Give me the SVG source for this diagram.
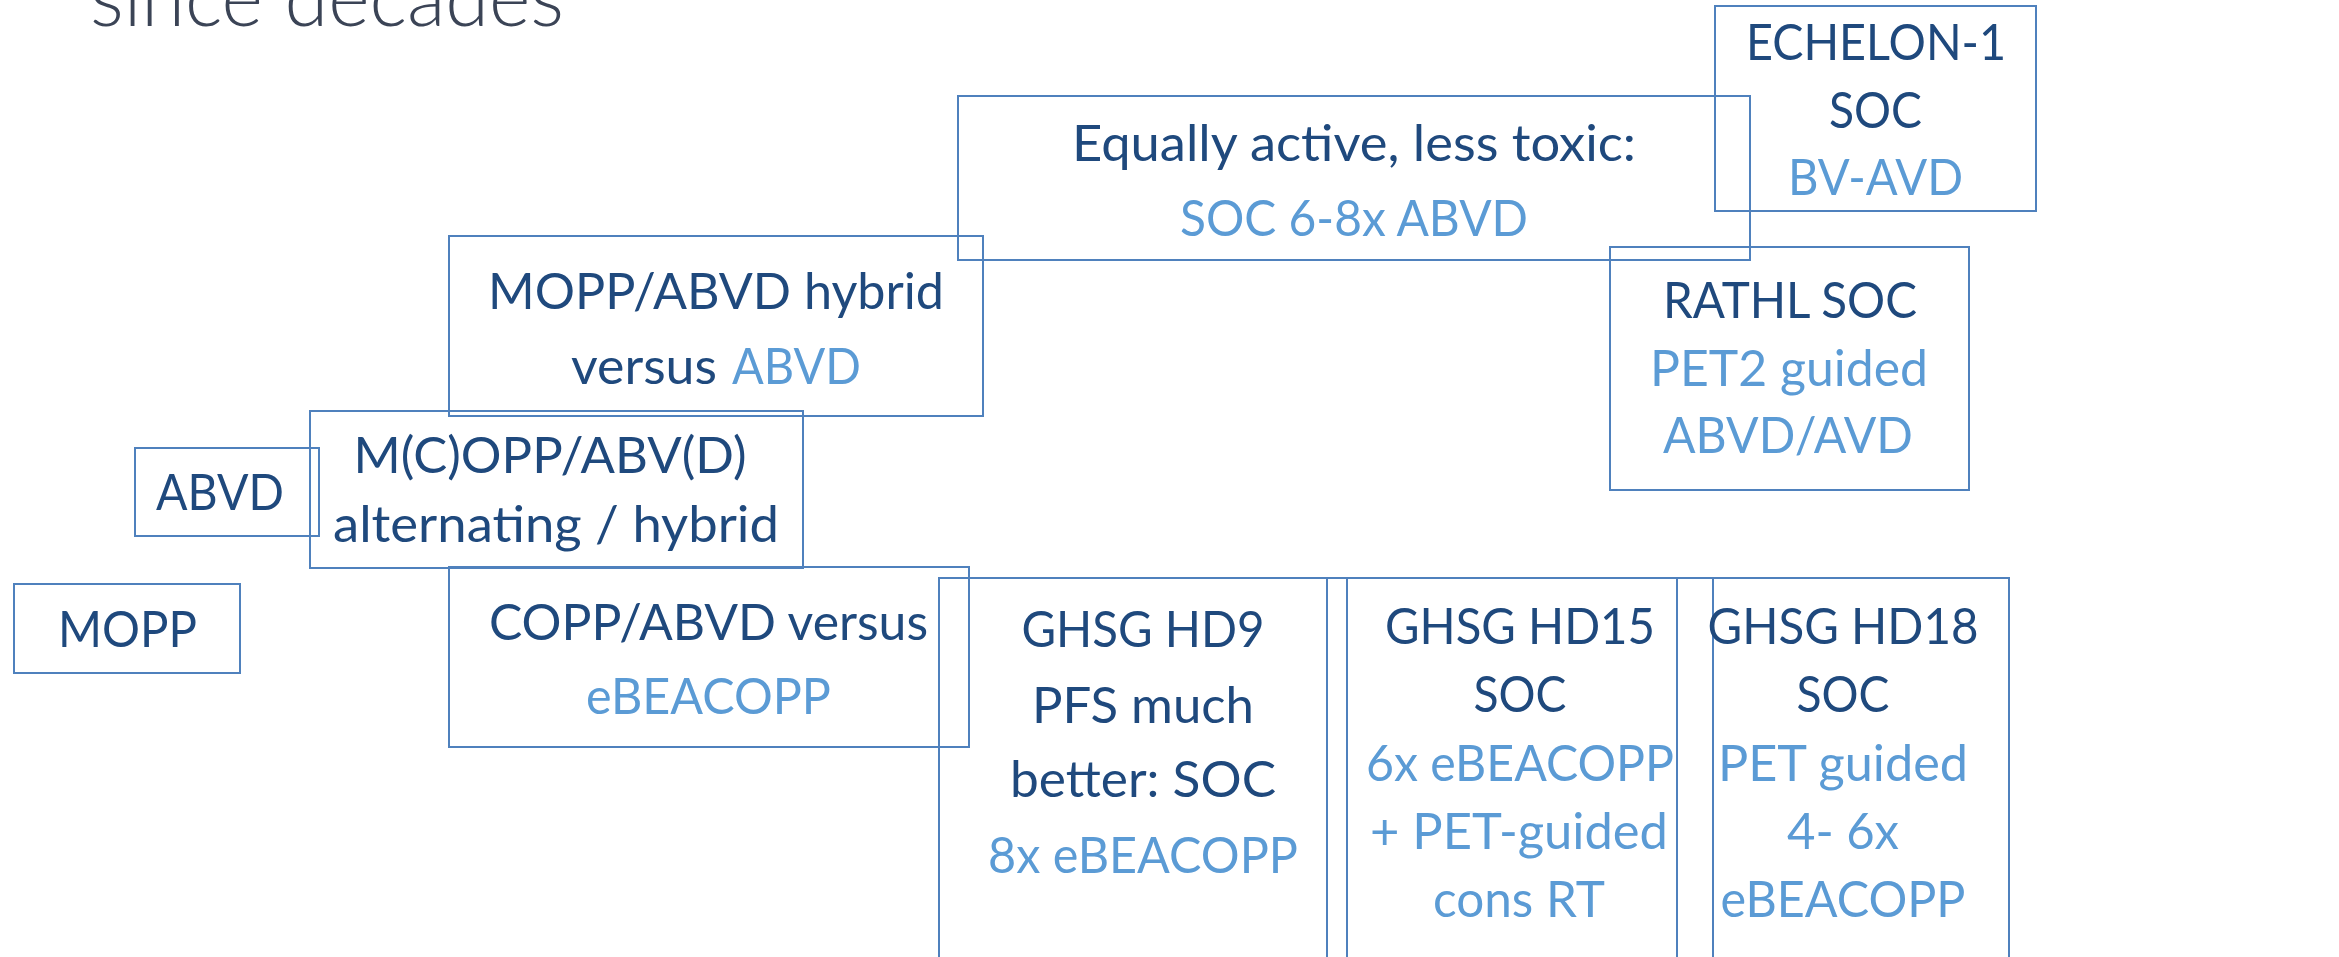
<svg xmlns="http://www.w3.org/2000/svg" width="2339" height="957" viewBox="0 0 2339 957">
  <style>
    .box { fill: none; stroke: #4F81BD; stroke-width: 2; }
    .t { font-family: Lato, "Liberation Sans", sans-serif; font-size: 50px; text-anchor: middle; }
    .s { text-anchor: start; }
    .d { fill: #1F497D; }
    .l { fill: #5B9BD5; }
    .title { font-family: Lato, "Liberation Sans", sans-serif; font-weight: 300; font-size: 80px; fill: #3B4456; }
  </style>
  <rect width="2339" height="957" fill="#FFFFFF"/>

  <!-- heading, partly above the top edge -->
  <text class="title" x="90" y="26" textLength="474" lengthAdjust="spacingAndGlyphs">since decades</text>

  <g id="connectors"/>

  <g id="node-mopp">
    <rect class="box" x="14" y="584" width="226" height="89"/>
    <text class="t d" x="127.5" y="647" textLength="139" lengthAdjust="spacingAndGlyphs">MOPP</text>
  </g>

  <g id="node-abvd">
    <rect class="box" x="135" y="448" width="184" height="88"/>
    <text class="t d s" x="156" y="510" textLength="128" lengthAdjust="spacingAndGlyphs">ABVD</text>
  </g>

  <g id="node-mcopp">
    <rect class="box" x="310" y="411" width="493" height="157"/>
    <text class="t d" x="550" y="473" textLength="393" lengthAdjust="spacingAndGlyphs">M(C)OPP/ABV(D)</text>
    <text class="t d" x="556" y="542" textLength="446" lengthAdjust="spacingAndGlyphs">alternating / hybrid</text>
  </g>

  <g id="node-hybrid">
    <rect class="box" x="449" y="236" width="534" height="180"/>
    <text class="t d" x="716" y="309" textLength="456" lengthAdjust="spacingAndGlyphs">MOPP/ABVD hybrid</text>
    <text class="t d s" x="571" y="384" textLength="146" lengthAdjust="spacingAndGlyphs">versus</text>
    <text class="t l s" x="732" y="384" textLength="129" lengthAdjust="spacingAndGlyphs">ABVD</text>
  </g>

  <g id="node-copp">
    <rect class="box" x="449" y="567" width="520" height="180"/>
    <text class="t d" x="708.5" y="640" textLength="439" lengthAdjust="spacingAndGlyphs">COPP/ABVD versus</text>
    <text class="t l" x="708.5" y="714" textLength="245" lengthAdjust="spacingAndGlyphs">eBEACOPP</text>
  </g>

  <g id="node-equally">
    <rect class="box" x="958" y="96" width="792" height="164"/>
    <text class="t d" x="1354" y="161" textLength="564" lengthAdjust="spacingAndGlyphs">Equally active, less toxic:</text>
    <text class="t l" x="1354" y="236" textLength="348" lengthAdjust="spacingAndGlyphs">SOC 6-8x ABVD</text>
  </g>

  <g id="node-echelon">
    <rect class="box" x="1715" y="6" width="321" height="205"/>
    <text class="t d" x="1876" y="60" textLength="260" lengthAdjust="spacingAndGlyphs">ECHELON-1</text>
    <text class="t d" x="1875.5" y="128" textLength="93" lengthAdjust="spacingAndGlyphs">SOC</text>
    <text class="t l" x="1875.5" y="195" textLength="175" lengthAdjust="spacingAndGlyphs">BV-AVD</text>
  </g>

  <g id="node-rathl">
    <rect class="box" x="1610" y="247" width="359" height="243"/>
    <text class="t d" x="1790" y="318" textLength="254" lengthAdjust="spacingAndGlyphs">RATHL SOC</text>
    <text class="t l" x="1789" y="386" textLength="278" lengthAdjust="spacingAndGlyphs">PET2 guided</text>
    <text class="t l" x="1788" y="453" textLength="250" lengthAdjust="spacingAndGlyphs">ABVD/AVD</text>
  </g>

  <g id="node-hd9">
    <rect class="box" x="939" y="578" width="408" height="400"/>
    <text class="t d" x="1143" y="647" textLength="243" lengthAdjust="spacingAndGlyphs">GHSG HD9</text>
    <text class="t d" x="1143" y="723" textLength="222" lengthAdjust="spacingAndGlyphs">PFS much</text>
    <text class="t d" x="1143" y="797" textLength="266" lengthAdjust="spacingAndGlyphs">better: SOC</text>
    <text class="t l" x="1143" y="873" textLength="310" lengthAdjust="spacingAndGlyphs">8x eBEACOPP</text>
  </g>

  <g id="node-hd15">
    <rect class="box" x="1327" y="578" width="386" height="400"/>
    <text class="t d" x="1520" y="644" textLength="270" lengthAdjust="spacingAndGlyphs">GHSG HD15</text>
    <text class="t d" x="1520" y="712" textLength="93" lengthAdjust="spacingAndGlyphs">SOC</text>
    <text class="t l" x="1520" y="781" textLength="308" lengthAdjust="spacingAndGlyphs">6x eBEACOPP</text>
    <text class="t l" x="1519" y="849" textLength="298" lengthAdjust="spacingAndGlyphs">+ PET-guided</text>
    <text class="t l" x="1519" y="917" textLength="172" lengthAdjust="spacingAndGlyphs">cons RT</text>
  </g>

  <g id="node-hd18">
    <rect class="box" x="1677" y="578" width="332" height="400"/>
    <text class="t d" x="1843" y="644" textLength="271" lengthAdjust="spacingAndGlyphs">GHSG HD18</text>
    <text class="t d" x="1843" y="712" textLength="93" lengthAdjust="spacingAndGlyphs">SOC</text>
    <text class="t l" x="1843" y="781" textLength="250" lengthAdjust="spacingAndGlyphs">PET guided</text>
    <text class="t l" x="1843" y="849" textLength="112" lengthAdjust="spacingAndGlyphs">4- 6x</text>
    <text class="t l" x="1843" y="917" textLength="245" lengthAdjust="spacingAndGlyphs">eBEACOPP</text>
  </g>
</svg>
